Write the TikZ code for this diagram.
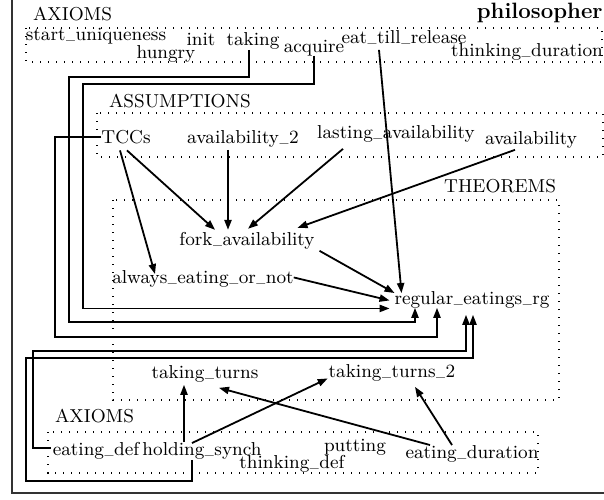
\documentclass[tikz,border=0pt]{standalone}
\usepackage{fontspec}
\usepackage{graphicx}
\usetikzlibrary{arrows.meta,calc}
\newcommand\us{\kern.03em\raisebox{.09em}{\scalebox{0.62}[1]{\_}}\kern.03em}
\begin{document}
\begin{tikzpicture}[x=0.5pt,y=-0.5pt,
  lbl/.style={inner sep=0pt, outer sep=0pt, anchor=base, font=\fontsize{9.35}{11}\selectfont},
  clus/.style={draw, line width=0.7pt, dash pattern=on 0.6pt off 3.4pt},
  edge/.style={draw, line width=0.9pt, -{Triangle[length=5pt,width=3.6pt]}},
  framebox/.style={draw=black!80, line width=1.1pt}
]
\useasboundingbox (0,0) rectangle (604,499);
\begin{scope}
  \clip (0,0) rectangle (604,499);
  \draw[framebox] (12,-10) rectangle (620,493);
\end{scope}
\node[anchor=east, inner sep=0pt, font=\fontsize{11.1}{13}\selectfont\bfseries] (title) at (603,13) {philosopher};

% clusters
\draw[clus] (26,28) rectangle (602,62);
\node[lbl, anchor=base west] (axtop) at (33,20) {AXIOMS};
\draw[clus] (97,113) rectangle (603,157);
\node[lbl, anchor=base west] (assum) at (109,107) {ASSUMPTIONS};
\draw[clus] (113,200) rectangle (559,400);
\node[lbl, anchor=base east] (theo) at (556,192) {THEOREMS};
\draw[clus] (48,432) rectangle (538,473);
\node[lbl, anchor=base west] (axbot) at (55,422) {AXIOMS};

% top axioms
\node[lbl] (startu) at (96,40) {start\us uniqueness};
\node[lbl] (hungry) at (166,58) {hungry};
\node[lbl] (init) at (201,45) {init};
\node[lbl] (taking) at (253,45) {taking};
\node[lbl] (acquire) at (314,52) {acquire};
\node[lbl] (etr) at (404,43) {eat\us till\us release};
\node[lbl] (thinkdur) at (527,56) {thinking\us duration};

% assumptions
\node[lbl] (TCCs) at (126,143) {TCCs};
\node[lbl] (avail2) at (243,143) {availability\us 2};
\node[lbl] (lasting) at (396,138) {lasting\us availability};
\node[lbl] (avail) at (531,144) {availability};

% theorems
\node[lbl] (fork) at (247,245) {fork\us availability};
\node[lbl] (always) at (203,283) {always\us eating\us or\us not};
\node[lbl] (regular) at (472,304) {regular\us eatings\us rg};
\node[lbl] (tt) at (205,378) {taking\us turns};
\node[lbl] (tt2) at (392,377) {taking\us turns\us 2};

% bottom axioms
\node[lbl] (eatdef) at (96,455) {eating\us def};
\node[lbl] (holding) at (202,455) {holding\us synch};
\node[lbl] (putting) at (355,451) {putting};
\node[lbl] (thinkdef) at (292,468) {thinking\us def};
\node[lbl] (eatdur) at (472,458) {eating\us duration};

% routed connectors into regular_eatings_rg
\draw[edge] (acquire.south) |- (83,84) |- ($(regular.west)+(-5,9)$);
\draw[edge] ($(taking.south)+(-4,1)$) |- (69,77) |- (415,322) -- ($(regular.south)+(-57,0)$);
\draw[edge] (TCCs.west) -| (55,337) -| ($(regular.south)+(-35,0)$);
\draw[edge] ($(eatdef.west)+(-2,-2)$) -| (33,351) -| ($(regular.south)+(-6,7)$);
\draw[edge] ($(holding.south)+(-10,1)$) |- (26,481) |- (473,358) -- ($(regular.south)+(1,7)$);

% diagonal connectors
\draw[edge] ($(TCCs.south)+(1,7)$) -- ($(fork.north)+(-32,-2)$);
\draw[edge] ($(TCCs.south)+(-6,7)$) -- ($(always.north)+(-48,4)$);
\draw[edge] ($(avail2.south)+(-15,3)$) -- ($(fork.north)+(-19,-2)$);
\draw[edge] ($(lasting.south)+(-53,7)$) -- ($(fork.north)+(1,-3)$);
\draw[edge] ($(avail.south)+(-16,2)$) -- ($(fork.north east)+(-17,-4)$);
\draw[edge] ($(fork.south east)+(5,2)$) -- ($(regular.north west)+(0,2)$);
\draw[edge] ($(always.east)+(0,-1)$) -- ($(regular.west)+(-5,1)$);
\draw[edge] ($(etr.south)+(-25,6)$) -- ($(regular.north west)+(7,2)$);

% bottom connectors
\draw[edge] ($(holding.north)+(-18,0)$) -- ($(tt.south)+(-21,3)$);
\draw[edge] ($(holding.north)+(-10,1)$) -- ($(tt2.west)+(-1,6)$);
\draw[edge] ($(eatdur.north)+(-42,0)$) -- ($(tt.south)+(14,6)$);
\draw[edge] ($(eatdur.north)+(-20,0)$) -- ($(tt2.south)+(23,6)$);
\end{tikzpicture}
\end{document}
